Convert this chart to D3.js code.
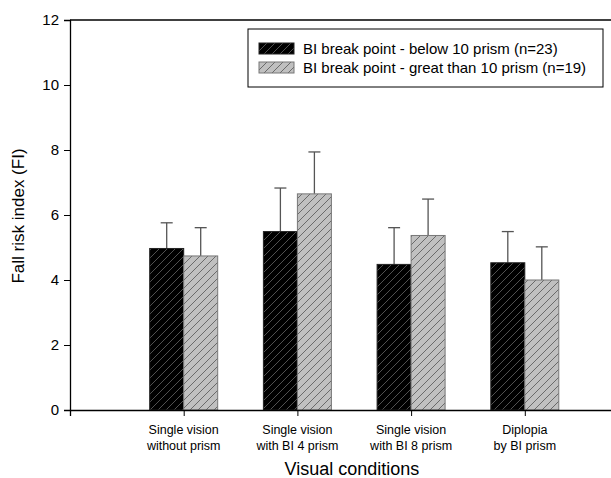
<!DOCTYPE html>
<html>
<head>
<meta charset="utf-8">
<script src="https://cdn.jsdelivr.net/npm/d3@7"></script>
<style>
  body { margin: 0; background: #fff; }
  svg { display: block; font-family: "Liberation Sans", Arial, sans-serif; }
</style>
</head>
<body>
<svg id="chart" width="611" height="478"></svg>
<script>
const WIDTH = 611;
const HEIGHT = 478;

// data
const categories = [
  ["Single vision", "without prism"],
  ["Single vision", "with BI 4 prism"],
  ["Single vision", "with BI 8 prism"],
  ["Diplopia", "by BI prism"]
];
const seriesNames = [
  "BI break point - below 10 prism (n=23)",
  "BI break point - great than 10 prism (n=19)"
];
const belowMeans = [4.97, 5.49, 4.48, 4.53];
const belowErr = [0.79, 1.34, 1.13, 0.96];
const aboveMeans = [4.74, 6.65, 5.37, 4.0];
const aboveErr = [0.87, 1.29, 1.12, 1.02];
const yTicks = [0, 2, 4, 6, 8, 10, 12];

const svg = d3.select("#chart");

const x = d3.scaleLinear().domain([0, 5]).range([70, 638.5]);
const y = d3.scaleLinear().domain([0, 12]).range([410, 20]);
const BAR_W = 34;

// hatch patterns
const defs = svg.append("defs");
const mkPattern = (id, bg, line) => {
  const p = defs.append("pattern")
    .attr("id", id)
    .attr("patternUnits", "userSpaceOnUse")
    .attr("width", 8)
    .attr("height", 8);
  p.append("rect").attr("width", 8).attr("height", 8).attr("fill", bg);
  p.append("path")
    .attr("d", "M-2,2 L2,-2 M0,8 L8,0 M6,10 L10,6")
    .attr("stroke", line)
    .attr("stroke-width", 0.9);
};
mkPattern("hatchBlack", "#000", "#5a5a5a");
mkPattern("hatchGray", "#c0c0c0", "#606060");

const series = [
  { name: seriesNames[0], means: belowMeans, errs: belowErr, fill: "url(#hatchBlack)", stroke: "#222", off: -BAR_W },
  { name: seriesNames[1], means: aboveMeans, errs: aboveErr, fill: "url(#hatchGray)", stroke: "#777", off: 0 }
];

// error bars (upper only), drawn first so bars sit on top
series.forEach(s => {
  const g = svg.append("g").attr("stroke", "#555").attr("stroke-width", 1.3);
  s.means.forEach((m, i) => {
    const cx = x(i + 1) + s.off + BAR_W / 2;
    g.append("line").attr("x1", cx).attr("x2", cx).attr("y1", y(m)).attr("y2", y(m + s.errs[i]));
    g.append("line").attr("x1", cx - 6).attr("x2", cx + 6).attr("y1", y(m + s.errs[i])).attr("y2", y(m + s.errs[i]));
  });
});

series.forEach(s => {
  svg.append("g")
    .selectAll("rect")
    .data(s.means)
    .enter()
    .append("rect")
    .attr("x", (d, i) => x(i + 1) + s.off)
    .attr("y", d => y(d))
    .attr("width", BAR_W)
    .attr("height", d => y(0) - y(d))
    .attr("fill", s.fill)
    .attr("stroke", s.stroke)
    .attr("stroke-width", 1);
});

// axes
const yAxis = d3.axisLeft(y).tickValues(yTicks).tickSize(6).tickPadding(5);
const yG = svg.append("g").attr("transform", "translate(70,0)").call(yAxis);
yG.select(".domain").attr("stroke", "#000").attr("stroke-width", 1.3);
yG.selectAll("line").attr("stroke", "#000");
yG.selectAll("text").attr("font-size", 15).attr("fill", "#000")
  .attr("font-family", "Liberation Sans, Arial, sans-serif");

const xAxis = d3.axisBottom(x).tickValues([0, 1, 2, 3, 4]).tickSize(6).tickFormat("");
const xG = svg.append("g").attr("transform", "translate(0,410)").call(xAxis);
xG.select(".domain").attr("stroke", "#000").attr("stroke-width", 1.3);
xG.selectAll("line").attr("stroke", "#000");

// top frame line
svg.append("line")
  .attr("x1", 70).attr("x2", WIDTH).attr("y1", y(12)).attr("y2", y(12))
  .attr("stroke", "#000").attr("stroke-width", 1.3);

// category labels
const catG = svg.append("g").attr("font-size", 12.5).attr("text-anchor", "middle");
categories.forEach((lines, i) => {
  lines.forEach((t, j) => {
    catG.append("text")
      .attr("x", x(i + 1))
      .attr("y", 434 + j * 16)
      .text(t);
  });
});

// axis titles
svg.append("text")
  .attr("x", 352)
  .attr("y", 475)
  .attr("text-anchor", "middle")
  .attr("font-size", 18)
  .text("Visual conditions");

svg.append("text")
  .attr("transform", "translate(24,216) rotate(-90)")
  .attr("text-anchor", "middle")
  .attr("font-size", 17)
  .text("Fall risk index (FI)");

// legend
const legend = svg.append("g").attr("transform", "translate(248,29)");
legend.append("rect")
  .attr("width", 355).attr("height", 58)
  .attr("fill", "#fff").attr("stroke", "#000").attr("stroke-width", 1);
series.forEach((s, i) => {
  const row = legend.append("g").attr("transform", `translate(11,${14 + i * 19})`);
  row.append("rect")
    .attr("width", 35).attr("height", 11)
    .attr("fill", s.fill).attr("stroke", s.stroke);
  row.append("text")
    .attr("x", 44).attr("y", 11)
    .attr("font-size", 15)
    .text(s.name);
});
</script>
</body>
</html>
